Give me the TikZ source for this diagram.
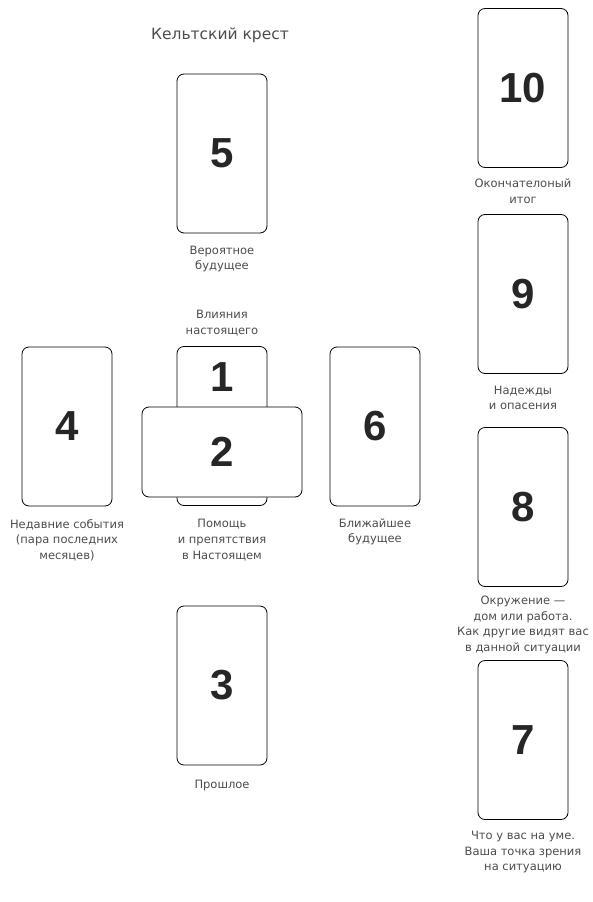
\documentclass[tikz,border=0pt]{standalone}
\usepackage{fontspec}
\setmainfont{Liberation Sans}
\newfontfamily\lblfont{DejaVu Sans}
\begin{document}
\begin{tikzpicture}[x=1pt,y=-1pt,
  card/.style={draw=black,line width=0.8pt,rounded corners=7pt,fill=white,inner sep=0pt,
    minimum width=90pt,minimum height=159pt,font=\fontsize{42}{42}\selectfont\bfseries,text=black!85},
  hcard/.style={card,minimum width=160pt,minimum height=90pt},
  lbl/.style={align=center,font=\lblfont\fontsize{11.5}{15.6}\selectfont,text=black!70,inner sep=0pt}]
\useasboundingbox (0,0) rectangle (593,902);
\node[lbl,font=\lblfont\fontsize{15.5}{18}\selectfont] (title) at (220,35) {Кельтский крест};
\node[card] (c5) at (222,153.5) {5};
\node[lbl] (l5) at (222,259) {Вероятное\\будущее};
\node[lbl] (l1) at (222,323) {Влияния\\настоящего};
\node[card] (c1) at (222,426) {};
\node[font=\fontsize{42}{42}\selectfont\bfseries,text=black!85] (n1) at (222,377) {1};
\node[hcard] (c2) at (222,452) {2};
\node[lbl] (l2) at (222,540) {Помощь\\и препятствия\\в Настоящем};
\node[card] (c4) at (67,426.5) {4};
\node[lbl] (l4) at (67,540) {Недавние события\\(пара последних\\месяцев)};
\node[card] (c6) at (375,426.5) {6};
\node[lbl] (l6) at (375,532) {Ближайшее\\будущее};
\node[card] (c3) at (222,685.5) {3};
\node[lbl] (l3) at (222,785) {Прошлое};
\node[card] (c10) at (523,88) {10};
\node[lbl] (l10) at (523,191.5) {Окончателоный\\итог};
\node[card] (c9) at (523,294) {9};
\node[lbl] (l9) at (523,398) {Надежды\\и опасения};
\node[card] (c8) at (523,507) {8};
\node[lbl] (l8) at (523,625) {Окружение —\\дом или работа.\\Как другие видят вас\\в данной ситуации};
\node[card] (c7) at (523,740) {7};
\node[lbl] (l7) at (523,852) {Что у вас на уме.\\Ваша точка зрения\\на ситуацию};
\end{tikzpicture}
\end{document}
